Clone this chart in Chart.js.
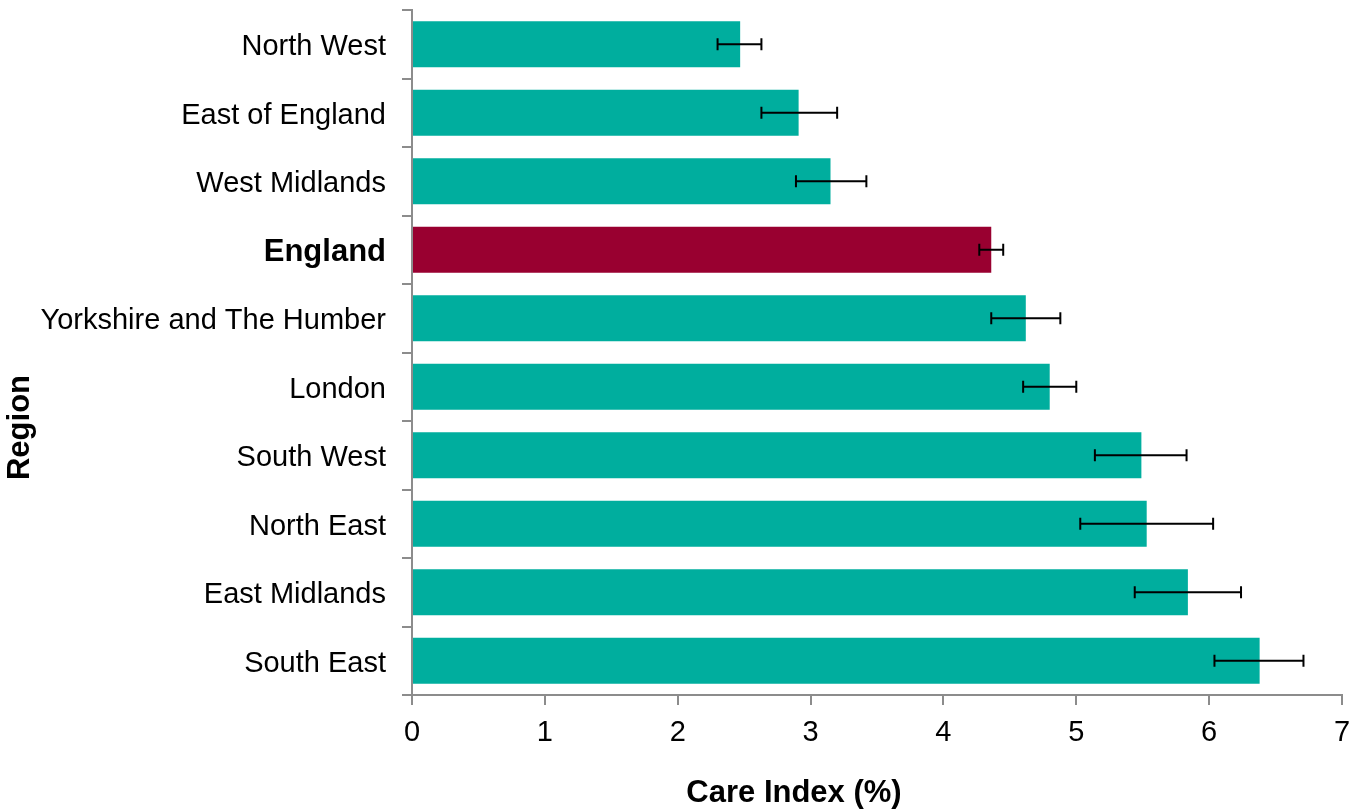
<!DOCTYPE html>
<html>
<head>
<meta charset="utf-8">
<script src="https://cdn.jsdelivr.net/npm/chart.js@4"></script>
<style>
  html, body { margin: 0; padding: 0; background: #fff; }
  #wrap { width: 1367px; height: 810px; }
</style>
</head>
<body>
<div id="wrap"><canvas id="grafico"></canvas></div>
<script>
// datos
var regiones = ["North West", "East of England", "West Midlands", "England",
  "Yorkshire and The Humber", "London", "South West", "North East",
  "East Midlands", "South East"];
var indice = [2.47, 2.91, 3.15, 4.36, 4.62, 4.80, 5.49, 5.53, 5.84, 6.38];
var error_bajo = [2.30, 2.63, 2.89, 4.27, 4.36, 4.60, 5.14, 5.03, 5.44, 6.04];
var error_alto = [2.63, 3.20, 3.42, 4.45, 4.88, 5.00, 5.83, 6.03, 6.24, 6.71];
var marcas_x = [0, 1, 2, 3, 4, 5, 6, 7];
var titulo_x = "Care Index (%)";
var titulo_y = "Region";

var verde = "#00AE9E";
var granate = "#990030";
var gris = "#8C8C8C";
var fuente = "'Liberation Sans', Arial, sans-serif";

function color_barra(nombre){
  if (nombre == "England"){
    return granate
  }
  return verde
}

// barras de error dibujadas con las escalas del grafico
var barras_error = {
  id: 'barras_error',
  afterDatasetsDraw: function(chart){
    var ctx = chart.ctx;
    var x = chart.scales.x;
    var meta = chart.getDatasetMeta(0);
    ctx.save();
    ctx.strokeStyle = "#000";
    ctx.lineWidth = 2;
    for (var i = 0; i < meta.data.length; i++){
      var y = meta.data[i].y;
      var x1 = x.getPixelForValue(error_bajo[i]);
      var x2 = x.getPixelForValue(error_alto[i]);
      ctx.beginPath();
      ctx.moveTo(x1, y); ctx.lineTo(x2, y);
      ctx.moveTo(x1, y - 6); ctx.lineTo(x1, y + 6);
      ctx.moveTo(x2, y - 6); ctx.lineTo(x2, y + 6);
      ctx.stroke();
    }
    ctx.restore();
  }
};

// titulos de ejes (en la imagen no estan centrados en el area)
var titulos = {
  id: 'titulos',
  afterDraw: function(chart){
    var ctx = chart.ctx;
    var area = chart.chartArea;
    ctx.save();
    ctx.fillStyle = "#000";
    ctx.font = "bold 31px " + fuente;
    ctx.textAlign = "center";
    ctx.textBaseline = "middle";
    ctx.fillText(titulo_x, (area.left + area.right) / 2 - 83, chart.height - 17);
    ctx.translate(20, (area.top + area.bottom) / 2 + 75);
    ctx.rotate(-Math.PI / 2);
    ctx.fillText(titulo_y, 0, 0);
    ctx.restore();
  }
};

var myChart = new Chart(document.getElementById("grafico"), {
  type: 'bar',
  data: {
    labels: regiones,
    datasets: [{
      label: titulo_x,
      data: indice,
      backgroundColor: regiones.map(color_barra),
      borderWidth: 0,
      categoryPercentage: 1,
      barPercentage: 0.67
    }]
  },
  options: {
    indexAxis: 'y',
    responsive: true,
    maintainAspectRatio: false,
    animation: false,
    layout: { padding: { left: 0, right: 25, top: 10, bottom: 0 } },
    plugins: {
      legend: { display: false },
      tooltip: { enabled: false }
    },
    scales: {
      x: {
        min: 0,
        max: 7,
        afterBuildTicks: function(scale){
          scale.ticks = marcas_x.map(function(v){ return { value: v } });
        },
        afterFit: function(scale){ scale.height = 115; },
        grid: { drawOnChartArea: false, drawTicks: true, tickLength: 10, color: gris, lineWidth: 2 },
        border: { color: gris, width: 2 },
        ticks: { color: "#000", padding: 11, font: { family: fuente, size: 29 } }
      },
      y: {
        afterFit: function(scale){
          scale.width = 412;
          scale.paddingTop = 0;
          scale.paddingBottom = 0;
        },
        grid: { drawOnChartArea: false, drawTicks: true, tickLength: 10, color: gris, lineWidth: 2, offset: true },
        border: { color: gris, width: 2 },
        ticks: {
          color: "#000",
          padding: 16,
          labelOffset: 3,
          font: function(context){
            if (regiones[context.index] == "England"){
              return { family: fuente, size: 31, weight: 'bold' }
            }
            return { family: fuente, size: 29 }
          }
        }
      }
    }
  },
  plugins: [barras_error, titulos]
});
</script>
</body>
</html>
